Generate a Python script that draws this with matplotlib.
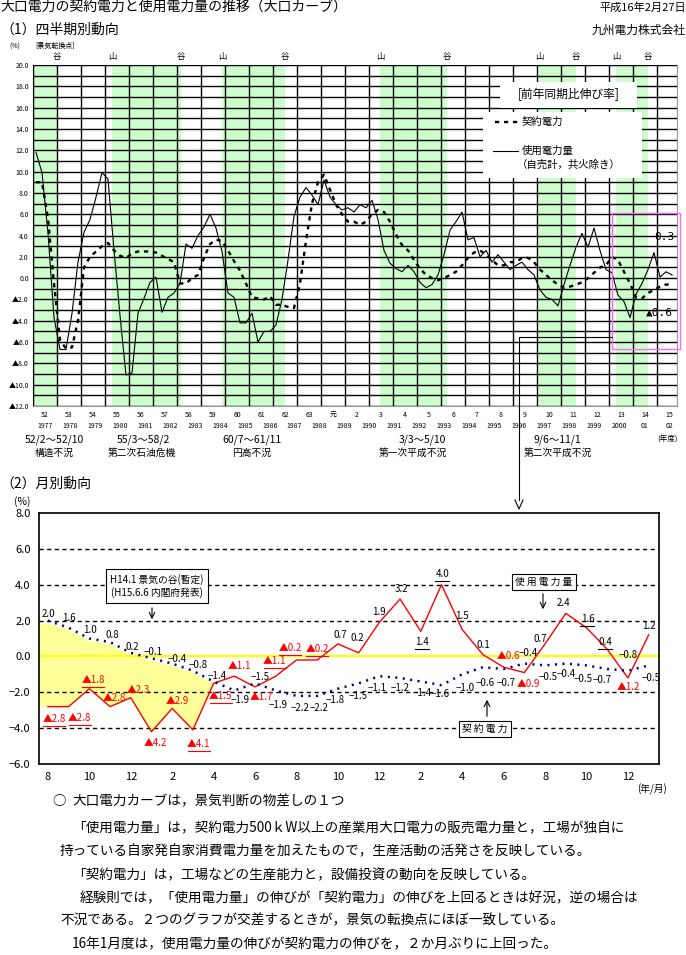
import numpy as np
import matplotlib.pyplot as plt
from matplotlib.patches import Rectangle
from matplotlib.lines import Line2D

plt.rcParams['font.family'] = ['Noto Sans CJK JP', 'DejaVu Sans']

W, H = 686, 955


def px(x, y):
    # picture pixels -> figure fraction
    return (x / W, 1 - y / H)


# ---- (1) quarterly data, FY1977 Q1 .. FY2003 Q3 ----
shiyou_q = [11.8, 9.9, 4.2, -3.7, -6.7, -6.7, -3.3, 1.5, 4.3, 5.5, 7.6, 9.9,
            9.3, 2.6, -3.5, -9.1, -8.9, -3.3, -1.9, -0.4, 0.1, -3.2, -1.8, -1.4,
            -0.5, 3.2, 2.8, 4.0, 4.8, 6.0, 4.7, 2.5, -1.4, -1.8, -4.2, -4.2,
            -3.3, -6.0, -5.0, -5.0, -4.4, -2.0, 1.7, 5.8, 7.6, 8.5, 7.8, 6.9,
            9.2, 7.6, 6.9, 6.4, 6.6, 6.2, 6.9, 6.6, 7.3, 5.5, 2.6, 1.4,
            0.9, 0.6, 1.2, 0.6, -0.4, -0.9, -0.6, 0.3, 2.2, 4.5, 5.3, 6.2,
            3.6, 3.8, 2.0, 2.6, 1.5, 2.2, 1.5, 0.8, 1.2, 1.5, 0.8, 0.3,
            -1.1, -1.8, -2.0, -2.6, -0.6, 1.2, 2.9, 4.2, 2.9, 4.7, 2.6, 0.8,
            0.5, -1.6, -2.2, -3.7, -1.5, -0.5, 0.8, 2.4, 0.1, 0.6, 0.3]
keiyaku_q = [9.0, 9.0, 5.6, -0.5, -5.8, -6.6, -6.5, -4.0, 1.0, 2.0, 2.5, 3.0,
             3.3, 2.6, 2.1, 1.9, 2.3, 2.5, 2.5, 2.5, 2.4, 2.1, 1.8, 1.5,
             -0.5, -0.5, 0.0, 0.3, 1.9, 3.2, 3.6, 3.5, 2.6, 1.6, 0.7, -0.5,
             -1.8, -1.9, -2.0, -1.7, -2.5, -2.5, -2.7, -2.8, -0.5, 3.5, 7.0, 9.0,
             9.7, 8.3, 6.9, 6.0, 5.3, 5.3, 5.0, 5.3, 6.0, 6.4, 6.2, 5.3,
             4.1, 3.1, 2.6, 1.7, 0.9, 0.3, 0.0, -0.2, 0.0, 0.3, 0.6, 1.2,
             1.9, 2.4, 2.6, 2.2, 1.7, 1.2, 1.2, 1.5, 1.5, 1.9, 1.9, 1.5,
             0.8, 0.3, -0.2, -0.6, -0.9, -0.8, -0.6, -0.4, 0.0, 0.5, 1.0, 1.2,
             2.0, 1.7, 0.6, -0.5, -1.8, -1.9, -1.4, -1.1, -0.8, -0.6, -0.6]

band_start = [1977.0, 1980.29, 1984.875, 1991.46, 1998.08, 2001.29]
band_end = [1978.0, 1983.17, 1987.5, 1994.25, 1999.625, 2002.625]

era_labels = ["52", "53", "54", "55", "56", "57", "58", "59", "60", "61", "62",
              "63", "元", "2", "3", "4", "5", "6", "7", "8", "9", "10", "11",
              "12", "13", "14", "15"]
year_labels = ["1977", "1978", "1979", "1980", "1981", "1982", "1983", "1984",
               "1985", "1986", "1987", "1988", "1989", "1990", "1991", "1992",
               "1993", "1994", "1995", "1996", "1997", "1998", "1999", "2000",
               "01", "02"]
rec_periods = ["52/2〜52/10", "55/3〜58/2", "60/7〜61/11", "3/3〜5/10", "9/6〜11/1"]
rec_names = ["構造不況", "第二次石油危機", "円高不況", "第一次平成不況", "第二次平成不況"]

# ---- (2) monthly data, 2001/8 .. 2004/1 ----
month_labels = ["8", "10", "12", "2", "4", "6", "8", "10", "12", "2", "4", "6",
                "8", "10", "12"]
shiyou_m = [-2.8, -2.8, -1.8, -2.8, -2.3, -4.2, -2.9, -4.1, -1.5, -1.1, -1.7, -1.1,
            -0.2, -0.2, 0.7, 0.2, 1.9, 3.2, 1.4, 4.0, 1.5, 0.1, -0.6, -0.9,
            0.7, 2.4, 1.6, 0.4, -1.2, 1.2]
keiyaku_m = [2.0, 1.6, 1.0, 0.8, 0.2, -0.1, -0.4, -0.8, -1.4, -1.9, -1.5, -1.9,
             -2.2, -2.2, -1.8, -1.5, -1.1, -1.2, -1.4, -1.6, -1.0, -0.6, -0.7, -0.4,
             -0.5, -0.4, -0.5, -0.7, -0.8, -0.5]
underlined_red = [0, 1, 2, 7, 8, 11, 12, 13, 18, 19, 26, 27]

fig = plt.figure(figsize=(W / 100, H / 100), dpi=100)

# header texts
fig.text(*px(0, 7), "大口電力の契約電力と使用電力量の推移（大口カーブ）", fontsize=10, va='center')
fig.text(*px(686, 8), "平成16年2月27日", fontsize=8, va='center', ha='right')
fig.text(*px(0, 30), "（1）四半期別動向", fontsize=10, va='center')
fig.text(*px(686, 30), "九州電力株式会社", fontsize=8.5, va='center', ha='right')
fig.text(*px(0, 484), "（2）月別動向", fontsize=10, va='center')

# =========== top chart ===========
ax1 = fig.add_axes([33 / W, 1 - 406 / H, 644 / W, 341 / H])
ax1.set_xlim(1977, 1977 + 644 / 24)
ax1.set_ylim(-12, 20)
for s, e in zip(band_start, band_end):
    ax1.axvspan(s, e, color='#CCFFCC', lw=0, zorder=0)

ax1.set_yticks(np.arange(-12, 21, 2))
ax1.set_yticklabels([f"{v:.1f}" if v >= 0 else f"▲{-v:.1f}" for v in np.arange(-12, 21, 2)])
ax1.set_yticks(np.arange(-12, 21, 1), minor=True)
ax1.set_xticks(np.arange(1977, 2004), minor=True)
ax1.set_xticks([])
ax1.grid(True, which='both', axis='y', color='black', lw=1.0, zorder=1)
ax1.grid(True, which='minor', axis='x', color='black', lw=1.0, zorder=1)
ax1.set_axisbelow(False)
ax1.tick_params(which='both', length=0, labelsize=5, pad=3)
for sp in ax1.spines.values():
    sp.set_color('#999999')
ax1.spines['left'].set_color('black')

qx = 1977 + (np.arange(len(shiyou_q)) + 0.5) / 4
ax1.plot(qx, shiyou_q, color='black', lw=0.8, zorder=3)
ax1.plot(qx, keiyaku_q, color='black', lw=1.7, ls=(0, (1.8, 2)), zorder=3)

# axis captions
fig.text(*px(15, 47), "(%)", fontsize=5, ha='center', va='center')
fig.text(*px(55, 46), "[景気転換点]", fontsize=5, ha='center', va='center')
xt = ax1.get_xaxis_transform()
for i, (s, e) in enumerate(zip(band_start, band_end)):
    if i > 0:  # the first band starts at the axis: trough only
        ax1.text(s, 1.025, "山", transform=xt, fontsize=6, ha='center', va='center')
    ax1.text(e, 1.025, "谷", transform=xt, fontsize=6, ha='center', va='center')

for k, lab in enumerate(era_labels):
    ax1.text(1977.5 + k, -0.027, lab, transform=xt, fontsize=5, ha='center', va='center')
for xv, lab in zip(np.linspace(1977.5, 2003.5, len(year_labels)), year_labels):
    ax1.text(xv, -0.06, lab, transform=xt, fontsize=5, ha='center', va='center')
fig.text(*px(668, 440), "(年度)", fontsize=5.5, ha='center', va='center')
rec_x = [54, 143, 252, 422, 557]
name_x = [54, 142, 252, 413, 558]
for x0, x1, a, b in zip(rec_x, name_x, rec_periods, rec_names):
    fig.text(*px(x0, 440), a, fontsize=7.5, ha='center', va='center')
    fig.text(*px(x1, 453), b, fontsize=7, ha='center', va='center')

# legend boxes
fig.add_artist(Rectangle(px(500, 108), 137 / W, 26 / H, transform=fig.transFigure,
                         facecolor='white', edgecolor='none', zorder=5))
fig.add_artist(Rectangle(px(483, 178), 159 / W, 66 / H, transform=fig.transFigure,
                         facecolor='white', edgecolor='none', zorder=5))
fig.text(*px(569, 94), "[前年同期比伸び率]", fontsize=8.5, ha='center', va='center', zorder=6)
fig.add_artist(Line2D([495 / W, 518 / W], [1 - 122 / H] * 2, color='black', lw=1.7,
                      ls=(0, (1.8, 2)), zorder=6))
fig.text(*px(522, 122), "契約電力", fontsize=7.5, va='center', zorder=6)
fig.add_artist(Line2D([493 / W, 518 / W], [1 - 151 / H] * 2, color='black', lw=0.8, zorder=6))
fig.text(*px(522, 151), "使用電力量", fontsize=7.5, va='center', zorder=6)
fig.text(*px(517, 165), "（自売計，共火除き）", fontsize=7.5, va='center', zorder=6)

# pink highlight box and pointer to the monthly chart
fig.add_artist(Rectangle(px(612, 349), 68 / W, 136 / H, transform=fig.transFigure,
                         facecolor='none', edgecolor='#FF66FF', lw=1.0, zorder=6))
fig.text(*px(664, 237), f"{shiyou_q[-1]:.1f}", fontsize=8, ha='center', va='center',
         family=['DejaVu Sans Mono'], zorder=7)
fig.text(*px(659, 313), f"▲{-keiyaku_q[-1]:.1f}", fontsize=8, ha='center', va='center',
         family=['DejaVu Sans Mono'], zorder=7)
fig.add_artist(Line2D([612 / W, 519 / W, 519 / W], [1 - 337 / H, 1 - 337 / H, 1 - 500 / H],
                      color='black', lw=0.8, zorder=6))
fig.add_artist(Line2D([515 / W, 519 / W, 523 / W], [1 - 500 / H, 1 - 509 / H, 1 - 500 / H],
                      color='black', lw=0.8, zorder=6))

# =========== bottom chart ===========
ax2 = fig.add_axes([39 / W, 1 - 764 / H, 620 / W, 251 / H])
months = np.arange(len(shiyou_m))
x_left = -0.43
ax2.set_xlim(x_left, 29.5)
ax2.set_ylim(-6, 8)
yt = np.arange(-6, 9, 2)
ax2.set_yticks(yt)
ax2.set_yticklabels([f"{v:.1f}" if v >= 0 else f"−{-v:.1f}" for v in yt])
ax2.set_xticks(np.arange(0, 29, 2))
ax2.set_xticklabels(month_labels)
ax2.tick_params(length=0, labelsize=8, pad=6)
for sp in ax2.spines.values():
    sp.set_linewidth(1.2)
for v in yt[1:-1]:
    if v != 0:
        ax2.axhline(v, color='black', lw=1.0, ls=(0, (3, 2.5)), zorder=1)

# yellow area while contract power exceeds usage (until the crossing)
n_fill = 9
fx = np.concatenate([[x_left], months[:n_fill]])
ftop = np.concatenate([[keiyaku_m[0] - 0.2], np.array(keiyaku_m[:n_fill]) - 0.1])
fbot = np.concatenate([[shiyou_m[0]], shiyou_m[:n_fill]])
ax2.fill_between(fx, fbot, ftop, color='#FFFF99', lw=0, zorder=0)
ax2.axhline(0, color='#FFFF00', lw=1.6, zorder=1)

ax2.plot(months, shiyou_m, color='#FF0000', lw=1.0, zorder=3)
ax2.plot(months, keiyaku_m, color='#000080', lw=1.8, ls=(0, (0.8, 2.2)), zorder=3)

blue_off = [(1, -7), (0, -10), (1, -9), (2, -7), (2, -6), (2, -6), (5, -5), (5, -6),
            (4, -6), (6, 10), (5, -6), (2, 15), (4, 12), (2, 12), (-3, 11), (-1, 13),
            (-2, 12), (0, 10), (1, 11), (-1, 9), (3, 14), (2, 16), (2, 14), (4, -11),
            (3, 12), (0, 10), (-3, 14), (-5, 11), (0, -16), (2, 13)]
red_off = [(6, 12), (11, 11), (4, -9), (4, -9), (8, -8), (4, 11), (5, -7), (6, 14),
           (7, 13), (5, -10), (6, 10), (-1, -15), (-6, -12), (0, -11), (2, -9), (-1, -15),
           (0, -10), (1, -10), (1, 11), (1, -11), (0, -14), (0, -10), (5, -11), (4, 11),
           (-5, -5), (-2, -10), (1, -9), (-2, -7), (0, 9), (0, -9)]
for m, v, (dx, dy) in zip(months, keiyaku_m, blue_off):
    lab = f"{v:.1f}" if v >= 0 else f"−{-v:.1f}"
    ax2.annotate(lab, (m, v), xytext=(dx, -dy), textcoords='offset pixels',
                 fontsize=7, ha='center', va='center', color='black', zorder=4)
for i, (m, v, (dx, dy)) in enumerate(zip(months, shiyou_m, red_off)):
    if v < 0:
        lab, col = f"▲{-v:.1f}", '#FF0000'
    else:
        lab, col = f"{v:.1f}", 'black'
    ax2.annotate(lab, (m, v), xytext=(dx, -dy), textcoords='offset pixels',
                 fontsize=7, ha='center', va='center', color=col, zorder=4)
    if i in underlined_red:
        # underline drawn in picture pixels under the label
        cx, cy = ax2.transData.transform((m, v))
        half = 11 if v < 0 else 7
        ux, uy = cx + dx, cy - dy - 7
        fig.add_artist(Line2D([(ux - half) / W, (ux + half) / W], [uy / H, uy / H],
                              color=col, lw=0.8, zorder=4))

fig.text(*px(22, 502), "(%)", fontsize=7.5, ha='center', va='center')
fig.text(*px(652, 789), "(年/月)", fontsize=7, ha='center', va='center')

# call-out boxes
fig.text(*px(157, 586), "H14.1 景気の谷(暫定)\n(H15.6.6 内閣府発表)", fontsize=7,
         ha='center', va='center', linespacing=1.3,
         bbox=dict(boxstyle='square,pad=0.45', facecolor='white', edgecolor='black', lw=0.8))
fig.text(*px(544, 582), "使 用 電 力 量", fontsize=7, ha='center', va='center',
         bbox=dict(boxstyle='square,pad=0.3', facecolor='white', edgecolor='black', lw=0.8))
fig.text(*px(485, 729), "契 約 電 力", fontsize=7, ha='center', va='center',
         bbox=dict(boxstyle='square,pad=0.3', facecolor='white', edgecolor='black', lw=0.8))
for (x, y0, y1) in [(152, 605, 622), (543, 591, 612), (487, 719, 697)]:
    fig.add_artist(plt.Annotation("", xy=px(x, y1), xytext=px(x, y0),
                                  xycoords='figure fraction', textcoords='figure fraction',
                                  arrowprops=dict(arrowstyle='->', lw=0.8, color='black')))

# explanation text
body = [
    (52, 801, "○"),
    (72, 801, "大口電力カーブは，景気判断の物差しの１つ"),
    (72, 828, "「使用電力量」は，契約電力500ｋW以上の産業用大口電力の販売電力量と，工場が独自に"),
    (60, 851, "持っている自家発自家消費電力量を加えたもので，生産活動の活発さを反映している。"),
    (72, 875, "「契約電力」は，工場などの生産能力と，設備投資の動向を反映している。"),
    (80, 898, "経験則では，「使用電力量」の伸びが「契約電力」の伸びを上回るときは好況，逆の場合は"),
    (60, 920, "不況である。２つのグラフが交差するときが，景気の転換点にほぼ一致している。"),
    (72, 944, "16年1月度は，使用電力量の伸びが契約電力の伸びを，２か月ぶりに上回った。"),
]
for x, y, t in body:
    fig.text(*px(x, y), t, fontsize=9.8, va='center')

fig.savefig("out.png", dpi=100)
